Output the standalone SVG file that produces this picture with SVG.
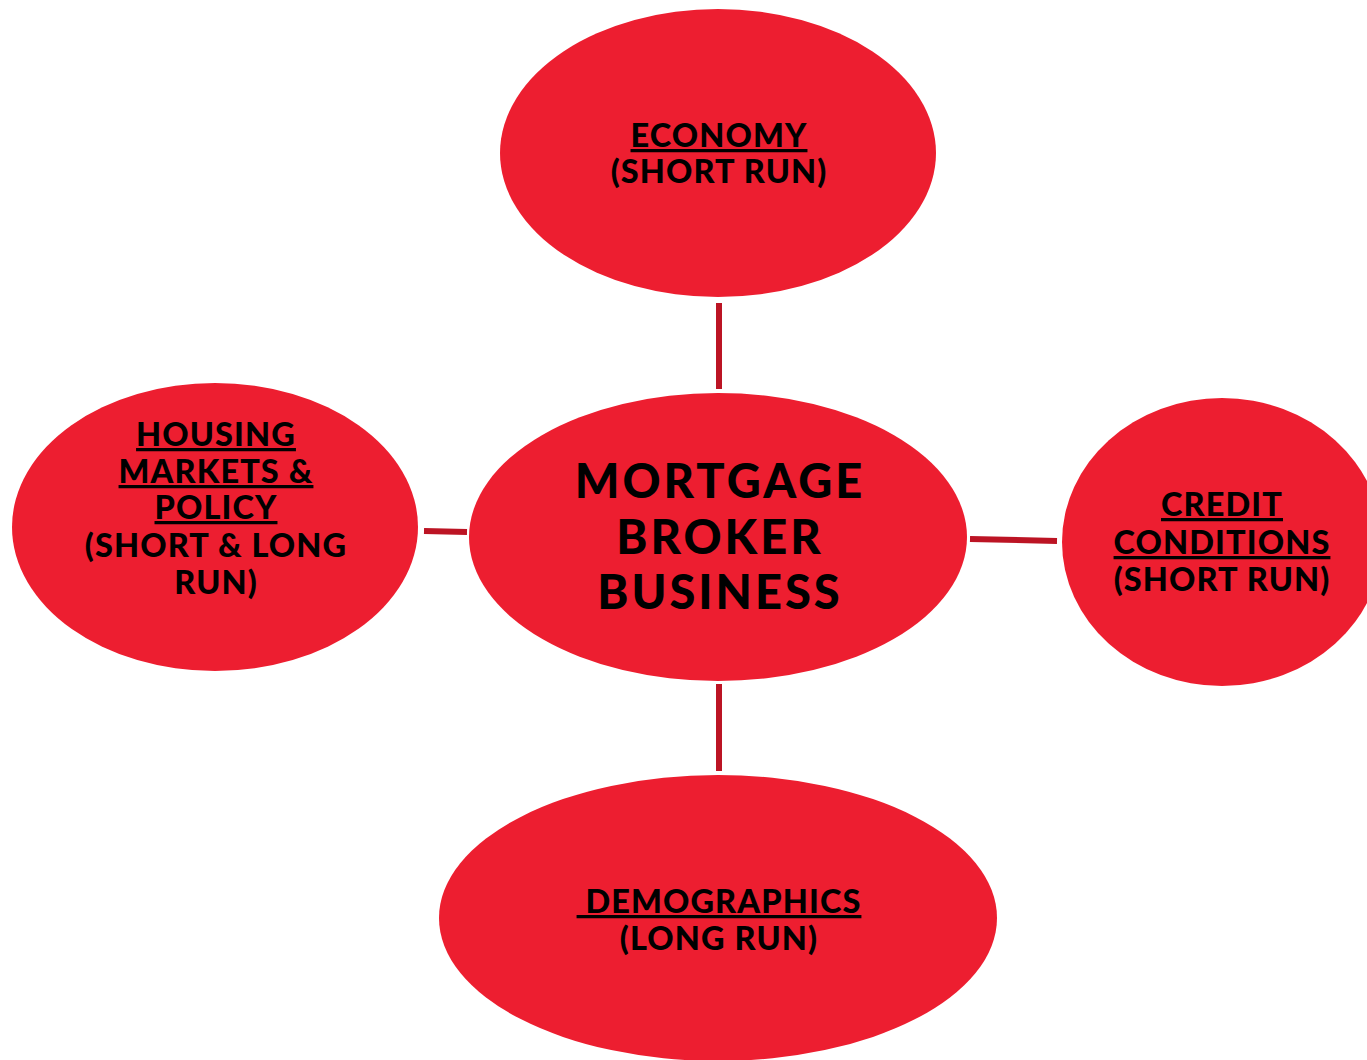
<svg xmlns="http://www.w3.org/2000/svg" width="1367" height="1060" viewBox="0 0 1367 1060">
<style>
.n{fill:#ED1E30;}
.t{font-family:Lato,"Open Sans","DejaVu Sans",sans-serif;font-weight:900;fill:#000;text-anchor:middle;font-size:32.5px;letter-spacing:1.1px;}
.u{text-decoration:underline;}
.big{font-size:47px;letter-spacing:3px;}
.c{stroke:#BC1424;stroke-width:6;fill:none;}
</style>
<rect width="1367" height="1060" fill="#fff"/>
<g id="connectors">
<line class="c" x1="719" y1="303" x2="719" y2="389"/>
<line class="c" x1="719" y1="684" x2="719" y2="771"/>
<line class="c" x1="424" y1="531" x2="467" y2="532"/>
<line class="c" x1="970" y1="539" x2="1057" y2="541"/>
</g>
<g id="economy">
<ellipse class="n" cx="718" cy="153" rx="218" ry="144"/>
<text class="t" x="719" y="147"><tspan class="u">ECONOMY</tspan></text>
<text class="t" x="719" y="183">(SHORT RUN)</text>
</g>
<g id="mortgage">
<ellipse class="n" cx="718" cy="537" rx="249" ry="144"/>
<text class="t big" x="720" y="498">MORTGAGE</text>
<text class="t big" x="720" y="554">BROKER</text>
<text class="t big" x="720" y="609">BUSINESS</text>
</g>
<g id="housing">
<ellipse class="n" cx="215" cy="527" rx="203" ry="144"/>
<text class="t" x="216" y="446"><tspan class="u">HOUSING</tspan></text>
<text class="t" x="216" y="483"><tspan class="u">MARKETS &amp;</tspan></text>
<text class="t" x="216" y="519"><tspan class="u">POLICY</tspan></text>
<text class="t" x="216" y="557">(SHORT &amp; LONG</text>
<text class="t" x="216" y="594">RUN)</text>
</g>
<g id="credit">
<ellipse class="n" cx="1222" cy="542" rx="160" ry="144"/>
<text class="t" x="1222" y="516"><tspan class="u">CREDIT</tspan></text>
<text class="t" x="1222" y="554"><tspan class="u">CONDITIONS</tspan></text>
<text class="t" x="1222" y="591">(SHORT RUN)</text>
</g>
<g id="demographics">
<ellipse class="n" cx="718" cy="918" rx="279" ry="143"/>
<text class="t" x="719" y="913" xml:space="preserve"><tspan class="u"> DEMOGRAPHICS</tspan></text>
<text class="t" x="719" y="950">(LONG RUN)</text>
</g>
</svg>
